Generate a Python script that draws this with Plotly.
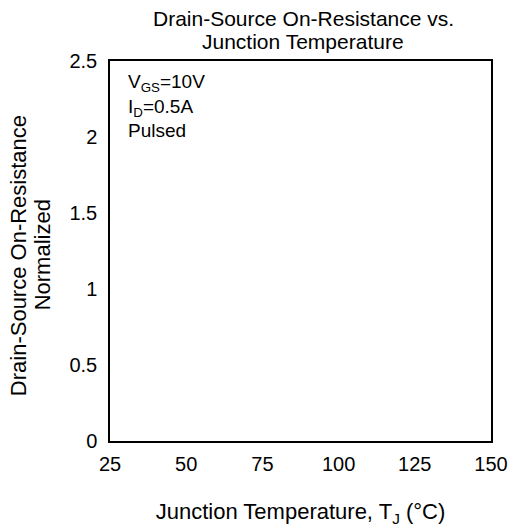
import plotly.graph_objects as go

x_ticks = [25, 50, 75, 100, 125, 150]
y_ticks = [0, 0.5, 1, 1.5, 2, 2.5]
y_tick_labels = ["0", "0.5", "1", "1.5", "2", "2.5"]
x_values = []
y_values = []

title_lines = ["Drain-Source On-Resistance vs.", "Junction Temperature"]
y_title_lines = ["Drain-Source On-Resistance", "Normalized"]
x_title = "Junction Temperature, T<sub>J</sub> (°C)"
condition_lines = ["V<sub>GS</sub>=10V", "I<sub>D</sub>=0.5A", "Pulsed"]

FONT = "Liberation Sans, Arial, sans-serif"

fig = go.Figure()
fig.add_trace(go.Scatter(x=x_values, y=y_values, mode="lines",
                         line=dict(color="black", width=2), showlegend=False))

fig.update_layout(
    width=511, height=527,
    margin=dict(l=110, r=20, t=61, b=86, autoexpand=False),
    paper_bgcolor="white", plot_bgcolor="white",
    font=dict(family=FONT, size=20, color="black"),
    showlegend=False,
    xaxis=dict(range=[25, 150], tickvals=x_ticks, ticktext=[str(v) for v in x_ticks],
               automargin=False,
               showgrid=False, zeroline=False, showline=True, linecolor="black",
               linewidth=1.5, mirror=True, ticks="", ticklabelstandoff=4,
               tickfont=dict(family=FONT, size=20),
               title=dict(text=x_title, standoff=35,
                          font=dict(family=FONT, size=22))),
    yaxis=dict(range=[0, 2.5], tickvals=y_ticks, ticktext=y_tick_labels,
               automargin=False,
               showgrid=False, zeroline=False, showline=True, linecolor="black",
               linewidth=1.5, mirror=True, ticks="", ticklabelstandoff=7,
               tickfont=dict(family=FONT, size=20)),
)

# chart title (two lines)
for txt, yp in zip(title_lines, [1.113, 1.050]):
    fig.add_annotation(x=0.507, y=yp, xref="paper", yref="paper",
                       xanchor="center", yanchor="middle", showarrow=False,
                       text=txt, font=dict(family=FONT, size=21, color="black"))

# y-axis title (two rotated lines)
for txt, xp in zip(y_title_lines, [-0.2415, -0.178]):
    fig.add_annotation(x=xp, y=0.489, xref="paper", yref="paper",
                       xanchor="center", yanchor="middle", showarrow=False,
                       textangle=-90,
                       text=txt, font=dict(family=FONT, size=22, color="black"))

# test conditions (one text block)
fig.add_annotation(x=0.043, y=0.8816, xref="paper", yref="paper",
                   xanchor="left", yanchor="middle", align="left", showarrow=False,
                   text="<br>".join(condition_lines),
                   font=dict(family=FONT, size=19, color="black"))

fig.write_html("out.html")
